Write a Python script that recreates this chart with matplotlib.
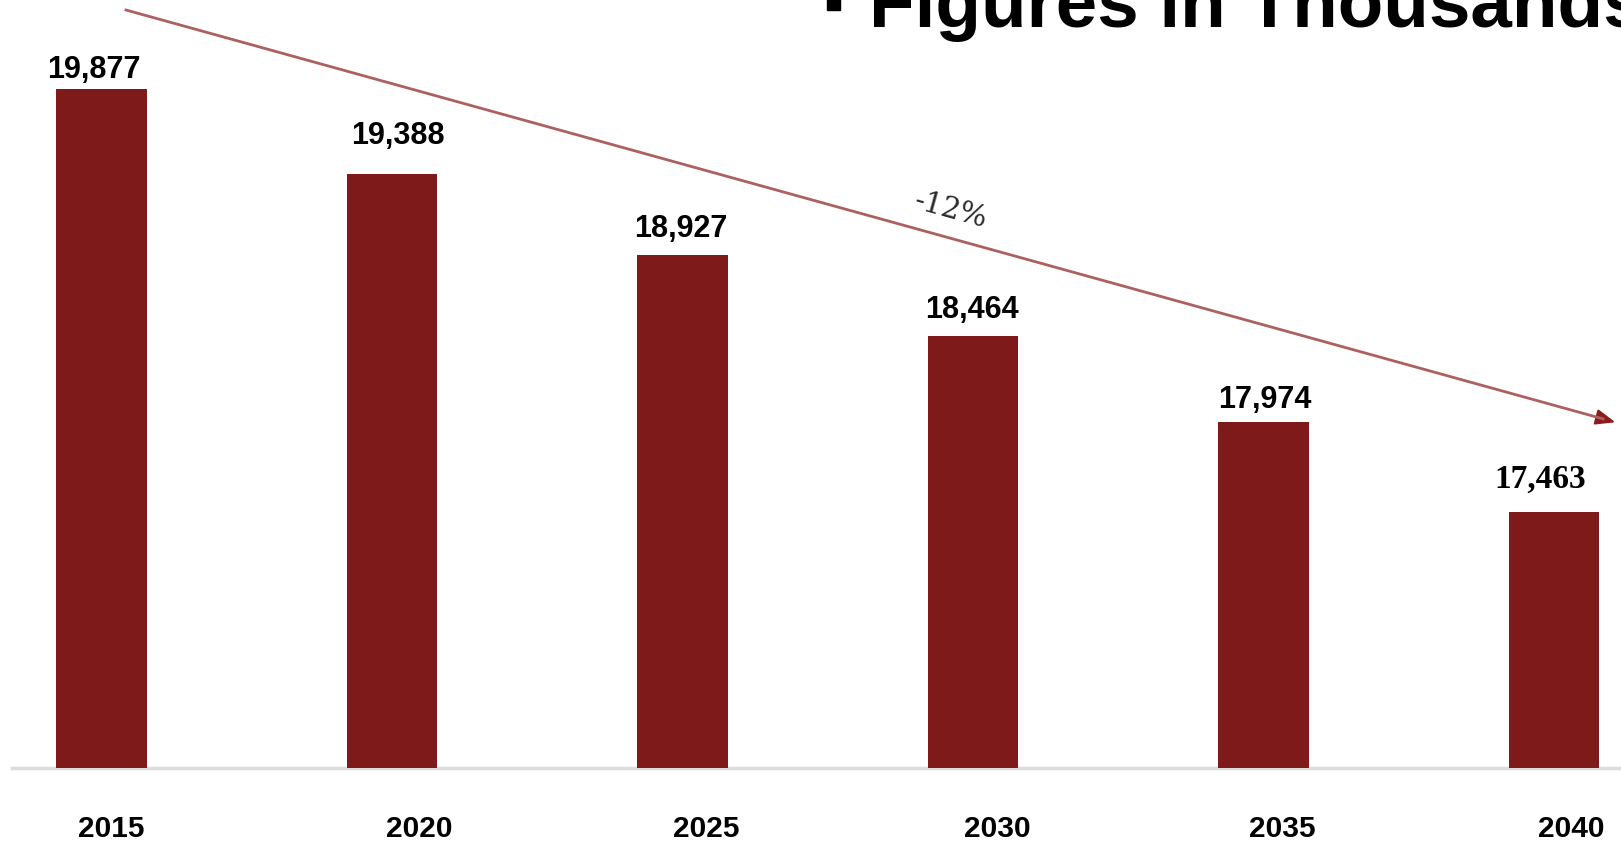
import matplotlib
matplotlib.use("Agg")
import matplotlib.pyplot as plt
from matplotlib.lines import Line2D
from matplotlib.patches import FancyArrowPatch, Rectangle

# Data
years = ["2015", "2020", "2025", "2030", "2035", "2040"]
population = [19877, 19388, 18927, 18464, 17974, 17463]
value_labels = ["19,877", "19,388", "18,927", "18,464", "17,974", "17,463"]
change_label = "-12%"
title = "Figures in Thousands"

# Layout
W, H = 1621, 845
y_floor = 16000
px_per_unit = 0.17523
bar_color = "#7e1a1a"
label_dx = [-7.5, 6, -1.5, -1, 1, -14]     # pixel nudges of value labels
label_dy = [20, 39, 27.5, 27.5, 23, 33]
year_dx = [10, 27, 24, 24, 19, 17]

fig = plt.figure(figsize=(W / 100, H / 100), dpi=100)
fig.patch.set_facecolor("white")
base_px = 769  # baseline, measured from the top
ax = fig.add_axes([0, (H - base_px) / H, 1, base_px / H])
ax.axis("off")

x = list(range(len(years)))
spacing = 290.5
first_center = 101.5
ax.set_xlim(-first_center / spacing, (W - first_center) / spacing)
ax.set_ylim(y_floor, y_floor + base_px / px_per_unit)

ax.bar(x, population, width=0.313, color=bar_color, zorder=2)
ax.axhline(y_floor, xmin=12 / W, xmax=1, color="#dcdcdc", lw=2.5,
           zorder=1, clip_on=False)

for i, (v, lab) in enumerate(zip(population, value_labels)):
    last = i == len(population) - 1
    ax.annotate(lab, (i, v), xytext=(label_dx[i], label_dy[i]),
                textcoords="offset pixels", ha="center", va="center",
                fontsize=24 if last else 22, fontweight="bold",
                family="Liberation Serif" if last else "Liberation Sans",
                color="black")

for i, yr in enumerate(years):
    ax.annotate(yr, (i, y_floor), xytext=(year_dx[i], -60),
                textcoords="offset pixels", ha="center", va="center",
                fontsize=21.5, fontweight="bold", family="Liberation Sans",
                color="black", annotation_clip=False)

# Trend arrow
x0, y0 = 126 / W, 1 - 11 / H
x1, y1 = 1618 / W, 1 - 424 / H
fig.add_artist(Line2D([x0, x0 + (x1 - x0) * 0.99], [y0, y0 + (y1 - y0) * 0.99],
                      transform=fig.transFigure, color="#ad6060", lw=2))
head = FancyArrowPatch((x0 + (x1 - x0) * 0.985, y0 + (y1 - y0) * 0.985), (x1, y1),
                       transform=fig.transFigure,
                       arrowstyle="-|>,head_length=0.8,head_width=0.32",
                       mutation_scale=15, color="#8b1c1c", lw=1.5)
fig.add_artist(head)

fig.text(951 / W, 1 - 210 / H, change_label, rotation=-15.5,
         rotation_mode="anchor", ha="center", va="center",
         fontsize=21, family="DejaVu Serif", color="#2a2a2a")

# Title with square bullet
fig.add_artist(Rectangle((827 / W, 1 - 11 / H), 13 / W, 0.05,
                         transform=fig.transFigure, color="black"))
fig.text(869 / W, 1 - 27 / H, title, ha="left", va="baseline",
         fontsize=53.7, fontweight="bold", family="Liberation Sans",
         color="black")

fig.savefig("out.png", dpi=100, facecolor="white")
